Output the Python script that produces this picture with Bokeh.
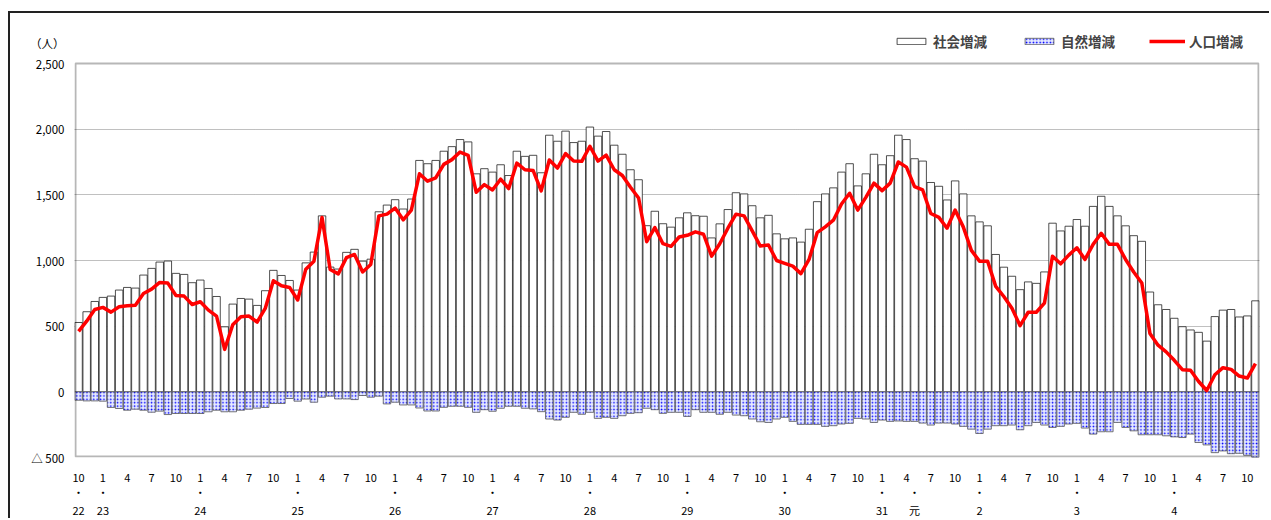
from bokeh.plotting import figure
from bokeh.models import (Range1d, FixedTicker, LinearAxis, Legend, LegendItem,
                          BoxAnnotation)
from bokeh.embed import file_html
from bokeh.resources import INLINE

# ---- data: monthly, Oct 2010 (H22.10) .. Nov 2022 (R4.11) ----
start_month = 10
social = [528, 610, 688, 719, 729, 775, 795, 790, 889, 940, 988, 996, 902, 894, 831, 851,
          787, 726, 495, 668, 711, 706, 658, 770, 925, 886, 848, 775, 982, 1064, 1340, 950,
          935, 1062, 1085, 995, 1010, 1371, 1422, 1463, 1392, 1468, 1762, 1737, 1762, 1832,
          1867, 1921, 1903, 1660, 1699, 1673, 1729, 1647, 1832, 1793, 1801, 1668, 1954, 1908,
          1985, 1898, 1908, 2016, 1947, 1982, 1878, 1809, 1691, 1615, 1265, 1375, 1280, 1254,
          1325, 1363, 1341, 1337, 1172, 1279, 1388, 1516, 1507, 1417, 1325, 1344, 1203, 1165,
          1172, 1140, 1238, 1448, 1507, 1553, 1673, 1737, 1568, 1660, 1809, 1729, 1798, 1954,
          1921, 1775, 1757, 1594, 1565, 1461, 1606, 1507, 1340, 1294, 1264, 1046, 949, 880,
          778, 837, 826, 913, 1284, 1225, 1261, 1312, 1261, 1412, 1489, 1412, 1340, 1264, 1189,
          1146, 760, 663, 627, 560, 496, 471, 453, 386, 573, 622, 627, 570, 578, 693]
natural = [-64, -69, -69, -71, -119, -127, -140, -132, -140, -155, -147, -173, -165, -165,
           -165, -165, -152, -140, -152, -152, -140, -132, -124, -119, -89, -89, -51, -71,
           -55, -79, -41, -33, -54, -54, -59, -28, -41, -33, -92, -79, -100, -100, -123, -146,
           -146, -118, -110, -110, -118, -156, -136, -148, -125, -110, -110, -125, -130, -151,
           -207, -215, -194, -156, -171, -156, -202, -194, -202, -182, -164, -159, -125, -136,
           -164, -156, -156, -187, -136, -156, -156, -171, -156, -177, -182, -207, -228, -233,
           -207, -194, -225, -248, -248, -248, -263, -258, -245, -240, -202, -207, -233, -215,
           -225, -222, -225, -225, -238, -253, -238, -238, -245, -263, -284, -317, -284, -258,
           -258, -253, -289, -258, -233, -253, -271, -263, -245, -240, -276, -322, -304, -304,
           -233, -271, -297, -327, -327, -327, -335, -343, -348, -322, -386, -404, -463, -450,
           -471, -468, -483, -501]
population = [460, 538, 627, 643, 607, 648, 655, 660, 749, 782, 833, 828, 734, 729, 665, 686,
              622, 577, 323, 511, 572, 577, 531, 635, 846, 808, 795, 699, 934, 995, 1328, 931,
              898, 1021, 1046, 913, 969, 1340, 1353, 1399, 1310, 1384, 1660, 1604, 1629, 1732,
              1768, 1826, 1801, 1519, 1578, 1537, 1619, 1548, 1742, 1691, 1686, 1530, 1765, 1704,
              1814, 1757, 1755, 1870, 1757, 1803, 1691, 1647, 1558, 1476, 1143, 1251, 1128, 1108,
              1179, 1192, 1218, 1200, 1033, 1128, 1246, 1353, 1340, 1225, 1110, 1118, 1000, 978,
              957, 900, 1008, 1212, 1256, 1307, 1430, 1512, 1384, 1481, 1589, 1532, 1589, 1750,
              1711, 1563, 1537, 1358, 1328, 1246, 1384, 1256, 1077, 995, 995, 803, 726, 637,
              504, 606, 606, 675, 1033, 975, 1041, 1097, 1008, 1123, 1207, 1123, 1123, 1008, 913,
              829, 445, 355, 304, 240, 169, 164, 79, 10, 130, 184, 171, 120, 105, 215]

era_ticks = [0, 3, 15, 27, 39, 51, 63, 75, 87, 99, 103, 111, 123, 135]
era_labels = ["22", "23", "24", "25", "26", "27", "28", "29", "30", "31", "元", "2", "3", "4"]
y_ticks = [-500, 0, 500, 1000, 1500, 2000, 2500]
y_labels = ["△ 500", "0", "500", "1,000", "1,500", "2,000", "2,500"]
series_names = ["社会増減", "自然増減", "人口増減"]
unit_label = "（人）"

n = len(social)
assert len(natural) == n and len(population) == n
xs = list(range(n))
months = [((start_month - 1 + i) % 12) + 1 for i in xs]
month_ticks = [i for i in xs if months[i] in (1, 4, 7, 10)]

FONT = "Noto Sans CJK JP"

# frame extends above the 2,500 line so that the legend and unit label fit inside it
Y_MIN, Y_MAX = -500, 2500
Y_TOP = Y_MAX + 50 * (Y_MAX - Y_MIN) / 394.0
UNIT_Y = Y_MAX + 21 * (Y_MAX - Y_MIN) / 394.0

p = figure(width=1261, height=507, x_range=Range1d(-0.5, n - 0.5),
           y_range=Range1d(Y_MIN, Y_TOP), output_backend="svg", toolbar_location=None,
           min_border_left=64, min_border_right=12, min_border_top=0, min_border_bottom=63)
p.title.visible = False
p.background_fill_color = "white"
p.border_fill_color = "white"
p.outline_line_color = None
p.styles = {"margin-left": "8px", "margin-top": "11px",
            "border-left": "2px solid #222222", "border-top": "2px solid #222222"}

# grid
p.xgrid.visible = False
p.ygrid.ticker = FixedTicker(ticks=[500, 1000, 1500, 2000])
p.ygrid.grid_line_color = "#808080"
p.ygrid.grid_line_dash = "1 1"
p.ygrid.grid_line_width = 1

# bars
r_soc = p.vbar(x=xs, top=social, bottom=0, width=0.92, fill_color="white",
               line_color="#222222", line_width=0.8)
r_nat = p.vbar(x=xs, top=0, bottom=natural, width=0.92, fill_color="#e6eaff",
               hatch_pattern=".", hatch_color="#0000ff", hatch_scale=3.4, hatch_weight=3,
               line_color="#555555", line_width=0.8)
r_pop = p.line(x=xs, y=population, line_color="#ff0000", line_width=3.5, line_join="round")

# plot-area box (2,500 .. -500)
p.add_layout(BoxAnnotation(left=1, right=1184, left_units="screen", right_units="screen",
                           bottom=1, bottom_units="screen", top=Y_MAX,
                           fill_alpha=0, line_color="#111111", line_width=2))

# y axis
ya = p.yaxis[0]
ticks = y_ticks + [UNIT_Y]
ya.ticker = FixedTicker(ticks=ticks)
ya.major_label_overrides = {t: l for t, l in zip(ticks, y_labels + [unit_label])}
ya.axis_line_color = None
ya.major_tick_line_color = None
ya.minor_tick_line_color = None
ya.major_tick_out = 0
ya.major_tick_in = 0
ya.major_label_standoff = 10
ya.major_label_text_font = FONT
ya.major_label_text_font_size = "11.5px"
ya.major_label_text_color = "black"


def style_x(ax, standoff):
    ax.axis_line_color = None
    ax.major_tick_line_color = None
    ax.minor_tick_line_color = None
    ax.major_tick_out = 0
    ax.major_tick_in = 0
    ax.major_label_standoff = standoff
    ax.major_label_text_font = FONT
    ax.major_label_text_font_size = "11px"
    ax.major_label_text_color = "black"


xa = p.xaxis[0]
xa.ticker = FixedTicker(ticks=month_ticks)
xa.major_label_overrides = {i: str(months[i]) for i in month_ticks}
style_x(xa, 16)

xdot = LinearAxis(ticker=FixedTicker(ticks=era_ticks),
                  major_label_overrides={i: "・" for i in era_ticks})
style_x(xdot, -1)
p.add_layout(xdot, "below")

xyr = LinearAxis(ticker=FixedTicker(ticks=era_ticks),
                 major_label_overrides={i: l for i, l in zip(era_ticks, era_labels)})
style_x(xyr, -1)
p.add_layout(xyr, "below")

legend = Legend(items=[LegendItem(label=series_names[0], renderers=[r_soc]),
                       LegendItem(label=series_names[1], renderers=[r_nat]),
                       LegendItem(label=series_names[2], renderers=[r_pop])],
                location=(819, 406), orientation="horizontal",
                glyph_width=36, glyph_height=8, label_standoff=4, spacing=34,
                padding=0, margin=0, background_fill_alpha=0, border_line_color=None,
                label_text_font=FONT, label_text_font_size="13.5px",
                label_text_font_style="bold")
p.add_layout(legend)

open("out.html", "w").write(file_html(p, INLINE))
